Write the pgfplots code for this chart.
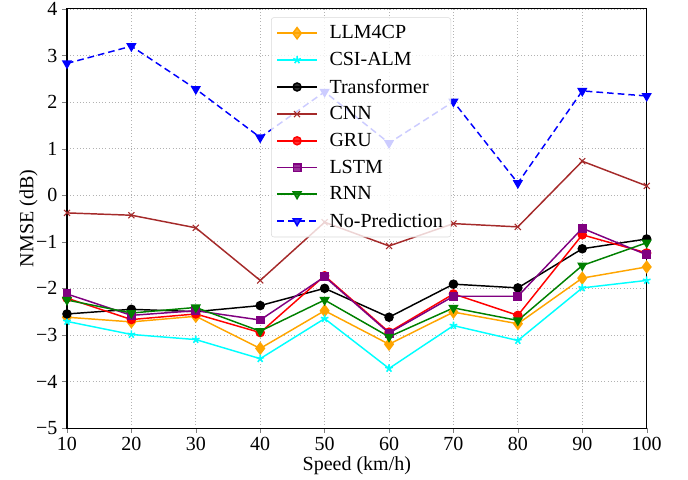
\documentclass[border=0pt]{standalone}
\usepackage{fontspec}
\setmainfont{Liberation Serif}
\usepackage{pgfplots}
\pgfplotsset{compat=1.18}
\usetikzlibrary{calc}
\definecolor{cOrange}{RGB}{255,165,0}
\definecolor{cCyan}{RGB}{0,255,255}
\definecolor{cBrown}{RGB}{165,42,42}
\definecolor{cPurple}{RGB}{128,0,128}
\definecolor{cGreen}{RGB}{0,128,0}
\begin{document}
\begin{tikzpicture}
\begin{axis}[
  scale only axis,
  width=435pt, height=314.5pt,
  xmin=10, xmax=100, ymin=-5, ymax=4,
  xtick={10,20,...,100},
  ytick={-5,-4,...,4},
  yticklabels={−5,−4,−3,−2,−1,0,1,2,3,4},
  /pgf/number format/assume math mode=true,
  tick label style={font=\fontsize{15}{18}\selectfont},
  label style={font=\fontsize{15}{18}\selectfont},
  xlabel={Speed (km/h)},
  ylabel={NMSE (dB)},
  xlabel style={yshift=3pt},
  ylabel style={yshift=-8pt},
  tick align=outside,
  major tick length=3.6pt,
  xtick pos=bottom, ytick pos=left,
  grid=major,
  major grid style={gray!60, dotted, line width=0.6pt},
  axis line style={line width=0.8pt},
  legend cell align=left,
  legend style={
    at={(0.352,0.98)}, anchor=north west,
    font=\fontsize{15}{18}\selectfont,
    draw=gray!30, rounded corners=2pt,
    fill=white, fill opacity=0.8, text opacity=1,
    row sep=4.6pt, inner xsep=4pt, inner ysep=4pt,
    /tikz/every odd column/.append style={column sep=7pt},
  },
  legend image code/.code={
    \draw[mark repeat=2,mark phase=2] plot coordinates {(0cm,0cm) (0.52cm,0cm) (1.04cm,0cm)};
  },
  lw/.style={line width=1.1pt},
]
\addplot[lw, color=cOrange, mark=diamond*, mark size=4.2pt, mark options={solid, fill=cOrange}] coordinates {
(10,-2.62) (20,-2.72) (30,-2.60) (40,-3.29) (50,-2.48) (60,-3.20) (70,-2.51) (80,-2.76) (90,-1.78) (100,-1.54)};
\addlegendentry{LLM4CP}
\addplot[lw, color=cCyan, mark=star, mark size=3pt, mark options={solid, line width=1.2pt}] coordinates {
(10,-2.71) (20,-2.99) (30,-3.10) (40,-3.51) (50,-2.65) (60,-3.72) (70,-2.80) (80,-3.12) (90,-1.99) (100,-1.83)};
\addlegendentry{CSI-ALM}
\addplot[lw, color=black, mark=*, mark size=3pt, mark options={solid, fill=black}] coordinates {
(10,-2.55) (20,-2.45) (30,-2.50) (40,-2.37) (50,-2.00) (60,-2.62) (70,-1.91) (80,-1.99) (90,-1.15) (100,-0.94)};
\addlegendentry{Transformer}
\addplot[lw, color=cBrown, mark=x, mark size=3.2pt, mark options={solid, line width=0.8pt}] coordinates {
(10,-0.38) (20,-0.43) (30,-0.70) (40,-1.83) (50,-0.58) (60,-1.09) (70,-0.61) (80,-0.68) (90,0.73) (100,0.20)};
\addlegendentry{CNN}
\addplot[lw, color=red, mark=*, mark size=3pt, mark options={solid, fill=red}] coordinates {
(10,-2.21) (20,-2.67) (30,-2.55) (40,-2.95) (50,-1.73) (60,-2.94) (70,-2.12) (80,-2.58) (90,-0.85) (100,-1.24)};
\addlegendentry{GRU}
\addplot[lw, color=cPurple, mark=square*, mark size=2.8pt, mark options={solid, fill=cPurple}] coordinates {
(10,-2.12) (20,-2.58) (30,-2.48) (40,-2.68) (50,-1.75) (60,-2.96) (70,-2.17) (80,-2.17) (90,-0.71) (100,-1.28)};
\addlegendentry{LSTM}
\addplot[lw, color=cGreen, mark=triangle*, mark size=3.4pt, mark options={solid, fill=cGreen, rotate=180}] coordinates {
(10,-2.25) (20,-2.53) (30,-2.41) (40,-2.92) (50,-2.25) (60,-3.04) (70,-2.42) (80,-2.69) (90,-1.51) (100,-1.02)};
\addlegendentry{RNN}
\addplot[lw, color=blue, dashed, dash pattern=on 5pt off 3pt, mark=triangle*, mark size=3.4pt, mark options={solid, fill=blue, rotate=180}] coordinates {
(10,2.83) (20,3.20) (30,2.28) (40,1.24) (50,2.22) (60,1.12) (70,2.01) (80,0.26) (90,2.24) (100,2.13)};
\addlegendentry{No-Prediction}
\end{axis}
\pgfresetboundingbox
\path ($(current axis.south west)+(-50.25pt,-38.8pt)$) rectangle ($(current axis.north east)+(31pt,6.7pt)$);
\end{tikzpicture}
\end{document}
